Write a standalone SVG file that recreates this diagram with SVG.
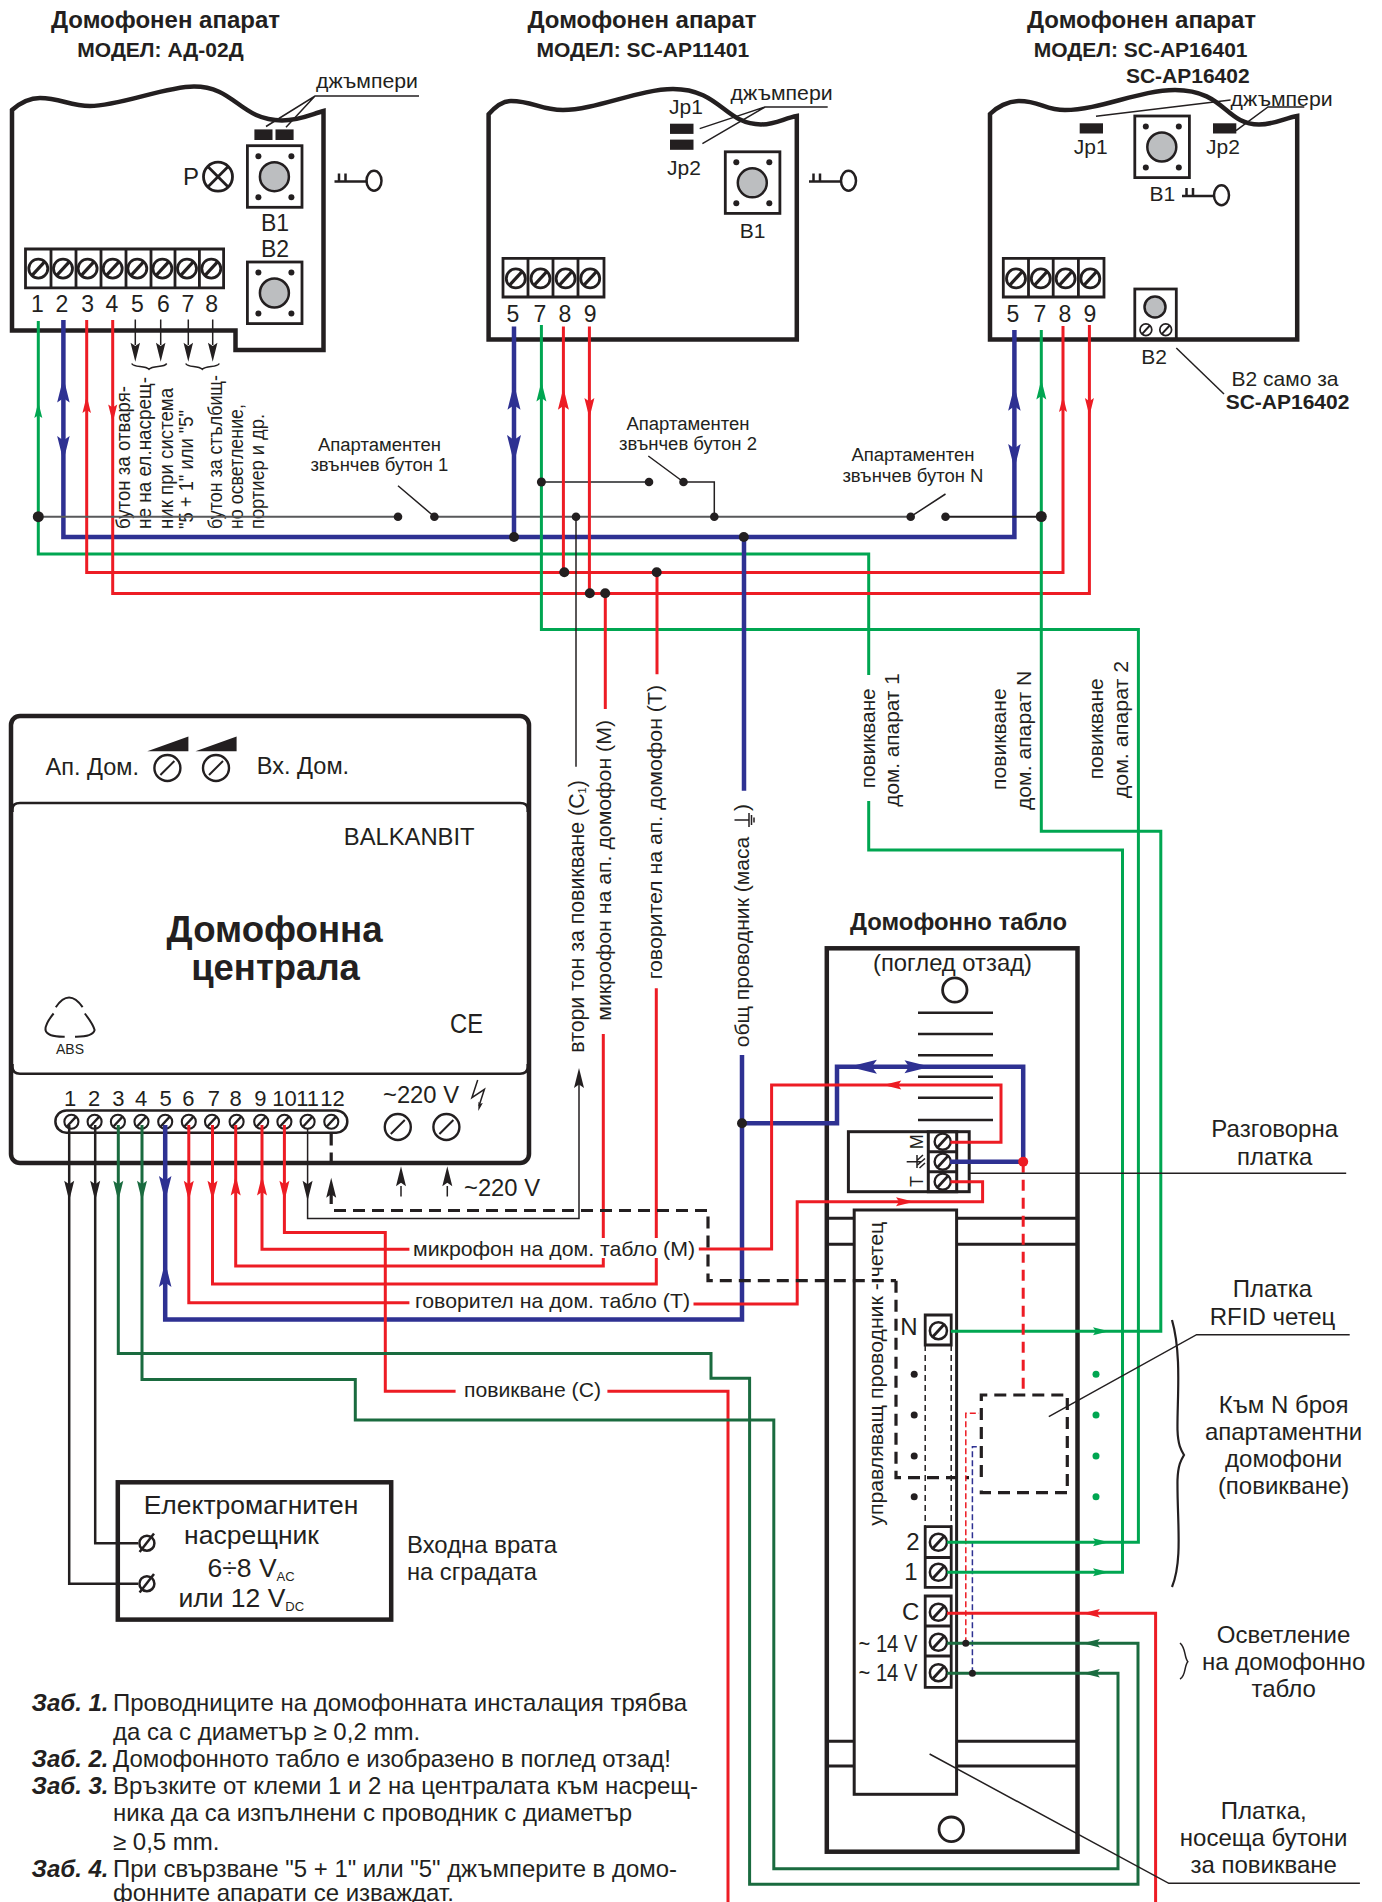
<svg xmlns="http://www.w3.org/2000/svg" width="1382" height="1902" viewBox="0 0 1382 1902">
<style>
text{font-family:"Liberation Sans",Arial,sans-serif;fill:#231f20;font-size:21px}
.m{text-anchor:middle}
.b{font-weight:bold}
.bi{font-weight:bold;font-style:italic;font-size:24px}
.h1{font-weight:bold;font-size:24px;text-anchor:middle}
.h2{font-weight:bold;font-size:21px;text-anchor:middle}
.s{font-size:23px}
.r{font-size:24px;text-anchor:middle}
.e{font-size:26.500px}
.nt{font-size:24px}
.v{font-size:18px}
.f{font-size:20px}
.o{fill:none;stroke:#231f20;stroke-width:4.500}
.t{fill:none;stroke:#231f20;stroke-width:2.800}
.l{fill:none;stroke:#231f20;stroke-width:1.500}
.k{fill:none;stroke:#231f20;stroke-width:2.500}
.d{fill:#231f20;stroke:none}
.w-r,.w-g,.w-b,.w-dg,.w-k,.w-ks,.w-gr,.w-dash,.w-rd{fill:none}
.w-r{stroke:#ed1c24;stroke-width:3}
.w-g{stroke:#00a651;stroke-width:3}
.w-b{stroke:#2e3192;stroke-width:4.500}
.w-dg{stroke:#1a6b3f;stroke-width:3}
.w-k{stroke:#231f20;stroke-width:2.500}
.w-ks{stroke:#231f20;stroke-width:1.500}
.w-gr{stroke:#58595b;stroke-width:2}
.w-dash{stroke:#231f20;stroke-width:3.200;stroke-dasharray:12 7}
.w-rd{stroke:#ed1c24;stroke-width:3;stroke-dasharray:11 7}
.ar{fill:#ed1c24}.ag{fill:#00a651}.ab{fill:#2e3192}.adg{fill:#1a6b3f}.ak{fill:#231f20}
</style>
<defs>
<path id="a" d="M0 0L5 20L0 16.500L-5 20Z"/>
<g id="sw"><circle r="9.500" fill="none" stroke="#231f20" stroke-width="2.800"/><line x1="-6" y1="6.500" x2="6" y2="-6.500" stroke="#231f20" stroke-width="3.200"/></g>
<g id="kn"><circle r="13" fill="none" stroke="#231f20" stroke-width="2.400"/><line x1="-7" y1="7" x2="7" y2="-7" stroke="#231f20" stroke-width="2"/></g>
<g id="key" fill="none" stroke="#231f20"><path d="M0 0H33M4.500 0V-8M11 0V-8" stroke-width="2.500"/><ellipse cx="39.500" cy="-0.800" rx="7.500" ry="10" stroke-width="2.500"/></g>
<g id="btn"><rect width="54.600" height="61.600" fill="none" stroke="#231f20" stroke-width="2.800"/><circle cx="27" cy="31" r="14.500" fill="#bcbec0" stroke="#231f20" stroke-width="2.500"/><circle cx="11" cy="10.500" r="3" class="d"/><circle cx="44" cy="10.500" r="3" class="d"/><circle cx="11" cy="51.500" r="3" class="d"/><circle cx="44" cy="51.500" r="3" class="d"/></g>
</defs>
<rect width="1382" height="1902" fill="#fff"/>

<g id="device-1">
<text class="h1" x="165.500" y="28">Домофонен апарат</text>
<text class="h2" x="160.500" y="56.500">МОДЕЛ: АД-02Д</text>
<path class="o" d="M12 330.600V110C20 103 30 98 40 98C60 98 70 106 90 106C120 106 165 86.500 194 86.500C235 86.500 240 120.400 282 120.400C300 120.400 312 114 323.500 111V350H235.500V330.600Z"/>
<rect class="d" x="254.400" y="129.400" width="18.100" height="10.600"/><rect class="d" x="275.500" y="129.400" width="18.100" height="10.600"/>
<path class="l" d="M419 96H315L266 126.500M315 96L286 127.300"/>
<text x="316" y="87.500" textLength="102" lengthAdjust="spacingAndGlyphs">джъмпери</text>
<text x="183" y="185" style="font-size:24px">P</text>
<circle cx="218" cy="176.700" r="14.500" class="t"/><path class="t" d="M207.800 166.500L228.200 186.900M228.200 166.500L207.800 186.900"/>
<use href="#btn" x="247.400" y="145.700"/><use href="#btn" x="247.400" y="262"/>
<text class="m s" x="275" y="230.500">B1</text><text class="m s" x="275" y="257">B2</text>
<use href="#key" x="334.500" y="181.600"/>
<path class="t" d="M25.500 249H223.600V287.800H25.500ZM51 249V287.800M76 249V287.800M101 249V287.800M126 249V287.800M151 249V287.800M175 249V287.800M199.400 249V287.800"/>
<use href="#sw" x="38.300" y="268.600"/><use href="#sw" x="63" y="268.600"/><use href="#sw" x="87.600" y="268.600"/><use href="#sw" x="112.700" y="268.600"/><use href="#sw" x="137.300" y="268.600"/><use href="#sw" x="162.400" y="268.600"/><use href="#sw" x="187" y="268.600"/><use href="#sw" x="211.300" y="268.600"/>
<text class="m s" x="37.400" y="312">1</text><text class="m s" x="62" y="312">2</text><text class="m s" x="87.600" y="312">3</text><text class="m s" x="111.800" y="312">4</text><text class="m s" x="137.300" y="312">5</text><text class="m s" x="163.300" y="312">6</text><text class="m s" x="188" y="312">7</text><text class="m s" x="211.700" y="312">8</text>
<path class="l" d="M131.700 363.500C134 368 145 365 149 369.300C153 365 164 368 166.700 363.500M185.700 363.500C188 368 198 365 202.300 369.300C206 365 217 368 219.300 363.500"/>
<text class="f" transform="translate(130,529) rotate(-90)" textLength="143" lengthAdjust="spacingAndGlyphs">бутон за отваря-</text>
<text class="f" transform="translate(151,529) rotate(-90)" textLength="152" lengthAdjust="spacingAndGlyphs">не на ел.насрещ-</text>
<text class="f" transform="translate(172.500,529) rotate(-90)" textLength="141" lengthAdjust="spacingAndGlyphs">ник при система</text>
<text class="f" transform="translate(193,529) rotate(-90)" textLength="119" lengthAdjust="spacingAndGlyphs">"5 + 1" или "5"</text>
<text class="f" transform="translate(222,529) rotate(-90)" textLength="154" lengthAdjust="spacingAndGlyphs">бутон за стълбищ-</text>
<text class="f" transform="translate(243.400,529) rotate(-90)" textLength="125" lengthAdjust="spacingAndGlyphs">но осветление,</text>
<text class="f" transform="translate(264,529) rotate(-90)" textLength="115" lengthAdjust="spacingAndGlyphs">портиер и др.</text>
</g>

<g id="device-2">
<text class="h1" x="642" y="28">Домофонен апарат</text>
<text class="h2" x="642.800" y="56.500">МОДЕЛ: SC-AP11401</text>
<path class="o" d="M488.600 339.600V114.300C495 107 502 101 511 101C533 101 540 110 563 110C595 110 640 89 673 89C720 89 725 124.500 761 124.500C775 124.500 785 118 796.800 116V339.600Z"/>
<rect class="d" x="670" y="123.700" width="23.500" height="10.200"/><rect class="d" x="670" y="139.600" width="23.500" height="10.200"/>
<text x="669" y="114">Jp1</text><text x="667" y="174.700">Jp2</text>
<path class="l" d="M827.700 107H765L699.700 128.600M765 107L702.400 143.700"/>
<text x="730.600" y="100" textLength="102" lengthAdjust="spacingAndGlyphs">джъмпери</text>
<use href="#btn" x="725.300" y="151.800"/>
<text class="m" x="752.700" y="237.500">B1</text>
<use href="#key" x="809" y="181.600"/>
<path class="t" d="M503 258.400H604V297H503ZM528 258.400V297M553 258.400V297M578 258.400V297"/>
<use href="#sw" x="515.800" y="278.400"/><use href="#sw" x="540.500" y="278.400"/><use href="#sw" x="565.600" y="278.400"/><use href="#sw" x="590.200" y="278.400"/>
<text class="m s" x="512.800" y="321.600">5</text><text class="m s" x="540" y="321.600">7</text><text class="m s" x="565" y="321.600">8</text><text class="m s" x="590.200" y="321.600">9</text>
</g>

<g id="device-3">
<text class="h1" x="1141.500" y="28">Домофонен апарат</text>
<text class="h2" x="1140.600" y="56.500">МОДЕЛ: SC-AP16401</text>
<text class="h2" x="1187.800" y="83">SC-AP16402</text>
<path class="o" d="M990 339.600V114C997 107 1008 101 1019 101C1040 101 1045 110 1065 110C1100 110 1140 90 1175 90C1225 90 1225 124.500 1259 124.500C1275 124.500 1285 118 1297.200 116V339.600Z"/>
<rect class="d" x="1079.700" y="123.300" width="23.300" height="10.200"/><rect class="d" x="1213" y="123.300" width="23.300" height="10.200"/>
<path class="l" d="M1230.600 100L1096 116.300M1304.300 107H1268L1236 130.600"/>
<text x="1230.600" y="106" textLength="102" lengthAdjust="spacingAndGlyphs">джъмпери</text>
<text class="m" x="1090.700" y="154">Jp1</text><text class="m" x="1223" y="154">Jp2</text>
<use href="#btn" x="1134.800" y="116"/>
<text class="m" x="1162.400" y="200.800">B1</text>
<use href="#key" x="1182" y="196"/>
<path class="t" d="M1003.300 258.400H1104V297H1003.300ZM1028.500 258.400V297M1053.200 258.400V297M1078.400 258.400V297"/>
<use href="#sw" x="1016" y="278.400"/><use href="#sw" x="1040.800" y="278.400"/><use href="#sw" x="1065.600" y="278.400"/><use href="#sw" x="1090.300" y="278.400"/>
<text class="m s" x="1013" y="321.600">5</text><text class="m s" x="1040" y="321.600">7</text><text class="m s" x="1065" y="321.600">8</text><text class="m s" x="1089.800" y="321.600">9</text>
<rect class="t" x="1134.800" y="289" width="41.500" height="50.600"/>
<circle cx="1155" cy="307" r="10.500" fill="#bcbec0" stroke="#231f20" stroke-width="2.500"/>
<use href="#sw" transform="translate(1145.900,329.800) scale(.62)"/><use href="#sw" transform="translate(1165.700,329.800) scale(.62)"/>
<text class="m" x="1154.200" y="364">B2</text>
<path class="l" d="M1176.300 348L1224 394"/>
<text class="m" x="1285" y="385.500">B2 само за</text>
<text class="h2" x="1287.500" y="409">SC-AP16402</text>
</g>

<g id="central-unit">
<rect class="o" x="11" y="716" width="518" height="447" rx="9"/>
<path class="k" d="M12.500 812V809Q12.500 803 20 803H520Q527.700 803 527.700 809V812M12.500 1064V1067Q12.500 1073.700 20 1073.700H520Q527.700 1073.700 527.700 1067V1064"/>
<text class="nt" x="45.500" y="775" textLength="93.500" lengthAdjust="spacingAndGlyphs">Ап. Дом.</text>
<text class="nt" x="256.700" y="773.500" textLength="92.500" lengthAdjust="spacingAndGlyphs">Вх. Дом.</text>
<use href="#kn" x="167.400" y="768"/><use href="#kn" x="216" y="768"/>
<path class="d" d="M147.300 751.300H188.400V736.600ZM195.500 751.300H236.600V736.600Z"/>
<text class="nt" x="343.800" y="845" textLength="130.800" lengthAdjust="spacingAndGlyphs">BALKANBIT</text>
<text class="b m" x="274.600" y="942" style="font-size:36.500px" textLength="216" lengthAdjust="spacingAndGlyphs">Домофонна</text>
<text class="b m" x="275.500" y="980" style="font-size:36.500px">централа</text>
<path class="k" style="stroke-width:2" d="M55.800 1007.200Q69 988 82.600 1007.200M53.600 1013.500Q45 1024 45.500 1030Q47 1037 64.700 1036.700M84.800 1013.500Q93 1024 94.600 1030Q93 1037 75 1036.700"/>
<text class="m" x="70" y="1053.500" style="font-size:14px">ABS</text>
<text x="450" y="1032.500" style="font-size:27px" textLength="33" lengthAdjust="spacingAndGlyphs">CE</text>
<g style="font-size:22px">
<text class="m" style="font-size:22px" x="70" y="1106">1</text><text class="m" style="font-size:22px" x="94.200" y="1106">2</text><text class="m" style="font-size:22px" x="118.300" y="1106">3</text><text class="m" style="font-size:22px" x="141" y="1106">4</text><text class="m" style="font-size:22px" x="165.600" y="1106">5</text><text class="m" style="font-size:22px" x="188.400" y="1106">6</text><text class="m" style="font-size:22px" x="213.800" y="1106">7</text><text class="m" style="font-size:22px" x="235.700" y="1106">8</text><text class="m" style="font-size:22px" x="260.300" y="1106">9</text><text class="m" style="font-size:22px" x="284.400" y="1106">10</text><text class="m" style="font-size:22px" x="307.600" y="1106">11</text><text class="m" style="font-size:22px" x="332.600" y="1106">12</text>
</g>
<rect class="k" x="55.400" y="1110.400" width="291.900" height="22.300" rx="11"/>
<g>
<use href="#sw" transform="translate(71.400,1121.700) scale(.74)"/><use href="#sw" transform="translate(94.600,1121.700) scale(.74)"/><use href="#sw" transform="translate(117.900,1121.700) scale(.74)"/><use href="#sw" transform="translate(141.500,1121.700) scale(.74)"/><use href="#sw" transform="translate(165.200,1121.700) scale(.74)"/><use href="#sw" transform="translate(188.800,1121.700) scale(.74)"/><use href="#sw" transform="translate(212,1121.700) scale(.74)"/><use href="#sw" transform="translate(236.600,1121.700) scale(.74)"/><use href="#sw" transform="translate(261.200,1121.700) scale(.74)"/><use href="#sw" transform="translate(284.400,1121.700) scale(.74)"/><use href="#sw" transform="translate(307.600,1121.700) scale(.74)"/><use href="#sw" transform="translate(331.300,1121.700) scale(.74)"/>
</g>
<use href="#kn" x="397.800" y="1127"/><use href="#kn" x="446.400" y="1127"/>
<text class="nt" x="383" y="1103" textLength="76" lengthAdjust="spacingAndGlyphs">~220 V</text>
<path class="l" d="M477.700 1080L471.900 1097.700L484.400 1089.300L479 1106"/><use href="#a" class="ak" transform="translate(478.300,1111) rotate(195) scale(.45)"/>
<text class="nt" x="464" y="1195.800" textLength="76" lengthAdjust="spacingAndGlyphs">~220 V</text>
</g>

<g id="door-strike">
<rect class="o" x="117.800" y="1482.300" width="273.400" height="137.300"/>
<text class="m e" x="251" y="1513.800">Електромагнитен</text>
<text class="m e" x="251.500" y="1544.300">насрещник</text>
<text class="e" x="207.500" y="1576.600">6÷8 V<tspan dy="4" style="font-size:13px">AC</tspan></text>
<text class="e" x="178.400" y="1607">или 12 V<tspan dy="4" style="font-size:13px">DC</tspan></text>
<circle cx="146.900" cy="1543.200" r="7.500" class="k"/><path class="k" d="M139.600 1552L154 1533.500"/>
<circle cx="146.900" cy="1583.700" r="7.500" class="k"/><path class="k" d="M139.600 1592.500L154 1574"/>
</g>

<g id="intercom-panel">
<text class="b m" x="958.500" y="930" style="font-size:24px" textLength="217" lengthAdjust="spacingAndGlyphs">Домофонно табло</text>
<rect class="o" x="826.800" y="948.300" width="250.700" height="903.400"/>
<text class="r" x="952.500" y="970.700" textLength="159" lengthAdjust="spacingAndGlyphs">(поглед отзад)</text>
<circle cx="954.800" cy="990" r="12.200" class="t"/>
<path class="k" d="M918 1012.700H993M918 1034H993M918 1055.300H993M918 1076.700H993M918 1097.700H993M918 1120H993"/>
<path class="k" style="stroke-width:3" d="M826.800 1218.300H1077.500M826.800 1244.300H1077.500M826.800 1741.300H1077.500M826.800 1766H1077.500"/>
<rect x="854.200" y="1210" width="102.400" height="584.300" fill="#fff" stroke="#231f20" stroke-width="3"/>
<circle cx="951.300" cy="1829.300" r="12.300" class="t"/>
<rect class="k" style="stroke-width:3" x="848.400" y="1131.700" width="120.800" height="60"/>
<path class="k" style="stroke-width:3" d="M928.300 1131.700H956.700V1191.700H928.300ZM928.300 1151.700H956.700M928.300 1171.700H956.700"/>
<use href="#sw" transform="translate(942.700,1141.700) scale(.85)"/><use href="#sw" transform="translate(942.700,1161.700) scale(.85)"/><use href="#sw" transform="translate(942.700,1181.700) scale(.85)"/>
<text class="m" transform="translate(923.300,1141.700) rotate(-90)" style="font-size:18px">M</text>
<text class="m" transform="translate(923.300,1181.500) rotate(-90)" style="font-size:18px">T</text>
<path class="l" d="M906.700 1161.700H921.700M917 1155V1168M919.500 1168L925 1163M917.500 1165L925 1158.500M917 1160.500L923 1155"/>
<path class="l" style="stroke-dasharray:6 4" d="M925.200 1345V1526.700M951.200 1345V1526.700"/>
<text transform="translate(883.300,1525.700) rotate(-90)" textLength="304" lengthAdjust="spacingAndGlyphs">управляващ проводник - четец</text>
<g class="d"><circle cx="914.200" cy="1374.300" r="3.500"/><circle cx="914.200" cy="1415" r="3.500"/><circle cx="914.200" cy="1456" r="3.500"/><circle cx="914.200" cy="1496.700" r="3.500"/></g>
<g fill="#00a651"><circle cx="1096" cy="1374.300" r="3.500"/><circle cx="1096" cy="1415" r="3.500"/><circle cx="1096" cy="1456" r="3.500"/><circle cx="1096" cy="1496.700" r="3.500"/></g>
<path class="t" d="M925.200 1315H951.200V1345H925.200ZM925.200 1526.700H951.200V1587.300H925.200ZM925.200 1557.500H951.200M925.200 1596H951.200V1687.300H925.200ZM925.200 1626H951.200M925.200 1656H951.200"/>
<use href="#sw" transform="translate(938.400,1330.700) scale(.9)"/><use href="#sw" transform="translate(938.400,1542.300) scale(.9)"/><use href="#sw" transform="translate(938.400,1572.300) scale(.9)"/><use href="#sw" transform="translate(938.400,1612.300) scale(.9)"/><use href="#sw" transform="translate(938.400,1642.300) scale(.9)"/><use href="#sw" transform="translate(938.400,1672.700) scale(.9)"/>
<text class="r" x="909" y="1335.300">N</text><text class="r" x="912.900" y="1550">2</text><text class="r" x="911" y="1580">1</text><text class="r" x="910.600" y="1620">C</text>
<text class="nt" x="858.600" y="1651.700" textLength="58.700" lengthAdjust="spacingAndGlyphs">~ 14 V</text>
<text class="nt" x="858.600" y="1680.700" textLength="58.700" lengthAdjust="spacingAndGlyphs">~ 14 V</text>
<path class="w-dash" d="M896 1280.700V1477.700H969"/>
<path class="w-dash" d="M981.300 1477V1395H1067.300V1492.700H981.300V1485"/>
<path fill="none" stroke="#ed1c24" stroke-width="1.500" stroke-dasharray="6 3" d="M965.800 1643.300V1413.300H979"/>
<path fill="none" stroke="#2e3192" stroke-width="1.500" stroke-dasharray="6 3" d="M972.400 1673.300V1446.700H977.700"/>
</g>

<g id="connectors">
<path class="w-g" d="M38.300 321V554H868.700V675M868.700 801V850H1122.500V1572.300H947"/>
<path class="w-b" d="M63.400 320V537H1014.400V330"/>
<path class="w-r" d="M86.700 320V572.600H1063V326"/>
<path class="w-r" d="M112.700 320V593.500H1089.400V325"/>
<path class="w-ks" d="M135.300 319.600V345M160.700 319.600V345M188.300 319.600V345M212.700 319.600V345"/>
<path class="w-gr" d="M38.300 516.700H398M434.400 516.700H910.700"/>
<path class="w-ks" d="M398 485.700L434.400 516.700M910.700 516.700L945.500 494"/>
<path class="w-k" style="stroke-width:2" d="M945.500 516.700H1041.300"/>
<path class="w-gr" d="M541.400 482H649"/>
<path class="w-ks" d="M648.300 456L683.500 482M683.500 482H714.300V516.700"/>
<path class="w-b" d="M514 326.500V537"/>
<path class="w-g" d="M541.400 325V629.400H1138.400V1542.300H947"/>
<path class="w-r" d="M563.400 326.500V572.600"/>
<path class="w-r" d="M589.400 326.500V593.500"/>
<path class="w-g" d="M1041.300 330V831.300H1160.800V1331.300H951"/>
<path class="w-ks" d="M576 516.700V766.700"/>
<path class="w-ks" d="M579 1080V1218.500H307.600V1129"/>
<path class="w-r" d="M605.300 593.500V709M603.300 1034V1238M603.300 1258V1266H235.700V1125"/>
<path class="w-r" d="M657 572.600V674.300M656.300 988.300V1238M656.300 1258V1284H212.500V1125"/>
<path class="w-b" d="M744 537V790.700M742 1055V1319.500H165.200V1125"/>
<path class="w-b" d="M742 1123.300H837V1066.700H1023.200V1161.700H950"/>
<path class="w-r" d="M188.800 1125V1302.700H409.400M693.500 1304H797.200V1201.700H982.600V1181.700H950.400"/>
<path class="w-r" d="M262 1125V1249.200H409.400M698.800 1249H771.600V1085H1001V1142.300H950.400"/>
<path class="w-r" d="M284.400 1125V1232.400H385.300V1391.300H455.600M607.400 1391.300H728V1902"/>
<path class="w-r" d="M947 1613.300H1155.600V1902"/>
<path class="w-k" d="M69.200 1125V1583.700H138"/>
<path class="w-k" d="M95.200 1125V1543.200H138"/>
<path class="w-dg" d="M118.300 1125V1353.600H711V1378.300H749.600V1884.300H1138V1643.300H947"/>
<path class="w-dg" d="M142 1125V1379.400H355.300V1420H773.800V1868.700H1118V1673.300H947"/>
<path class="w-dash" d="M331.200 1133.500V1170M331.200 1194V1204M334 1210.500H708V1280.700H896"/>
<path class="w-rd" d="M1023.200 1161.700V1389.300"/>
<path class="w-ks" d="M401 1186V1196.600M447.300 1186V1196.600"/>
<g class="d">
<circle cx="38.300" cy="516.700" r="5.500"/><circle cx="398" cy="516.700" r="4.300"/><circle cx="434.400" cy="516.700" r="4.300"/><circle cx="910.700" cy="516.700" r="4.300"/><circle cx="945.500" cy="516.700" r="4.300"/><circle cx="1041.300" cy="516.500" r="5.500"/>
<circle cx="541.400" cy="482" r="4.500"/><circle cx="649" cy="482" r="4.300"/><circle cx="683.500" cy="482" r="4.300"/><circle cx="714.300" cy="516.700" r="4.300"/><circle cx="576" cy="516.700" r="4.300"/>
<circle cx="514" cy="537" r="5"/><circle cx="743.800" cy="537" r="5"/><circle cx="564.300" cy="572.300" r="5"/><circle cx="656.700" cy="572.300" r="5"/><circle cx="589.800" cy="593.200" r="5"/><circle cx="605.200" cy="593.200" r="5"/><circle cx="742" cy="1123.300" r="5"/>
<circle cx="965.800" cy="1643.300" r="3.500"/><circle cx="972.400" cy="1673.300" r="3.500"/>
</g>
<circle cx="1023.200" cy="1161.700" r="5" fill="#ed1c24"/>
<g class="ag">
<use href="#a" transform="translate(38.300,402) scale(.8)"/><use href="#a" transform="translate(541.400,381.600) scale(1)"/><use href="#a" transform="translate(1041.300,379.600) scale(1)"/>
<use href="#a" transform="translate(1109,1331.300) rotate(90) scale(.8)"/><use href="#a" transform="translate(1109,1542.300) rotate(90) scale(.8)"/><use href="#a" transform="translate(1109,1572.300) rotate(90) scale(.8)"/>
</g>
<g class="ab">
<use href="#a" transform="translate(63.400,377.500) scale(1.250)"/><use href="#a" transform="translate(63.400,461) rotate(180) scale(1.250)"/>
<use href="#a" transform="translate(514,383.700) scale(1.300)"/><use href="#a" transform="translate(514,463) rotate(180) scale(1.400)"/>
<use href="#a" transform="translate(1014.400,385.700) scale(1.250)"/><use href="#a" transform="translate(1014.400,469) rotate(180) scale(1.250)"/>
<use href="#a" transform="translate(165.200,1201) rotate(180) scale(1.250)"/><use href="#a" transform="translate(165.200,1261.900) scale(1.250)"/>
<use href="#a" transform="translate(848.900,1066.700) rotate(-90) scale(1.400)"/><use href="#a" transform="translate(930.500,1066.700) rotate(90) scale(1.300)"/>
</g>
<g class="ar">
<use href="#a" transform="translate(86.700,396) scale(.85)"/><use href="#a" transform="translate(112.700,422.400) rotate(180) scale(.9)"/>
<use href="#a" transform="translate(563.400,387.800) scale(1.100)"/><use href="#a" transform="translate(589.400,418) rotate(180)"/>
<use href="#a" transform="translate(1063,396) scale(.8)"/><use href="#a" transform="translate(1089.400,416) rotate(180) scale(.9)"/>
<use href="#a" transform="translate(188.800,1200.800) rotate(180)"/><use href="#a" transform="translate(212.500,1200.800) rotate(180)"/><use href="#a" transform="translate(235.700,1175.600)"/><use href="#a" transform="translate(262,1175.600)"/><use href="#a" transform="translate(284.400,1200.800) rotate(180)"/>
<use href="#a" transform="translate(883.300,1085) rotate(-90) scale(.9)"/><use href="#a" transform="translate(914,1201.700) rotate(90) scale(.9)"/><use href="#a" transform="translate(1082.800,1613.300) rotate(-90) scale(.85)"/>
</g>
<g class="adg">
<use href="#a" transform="translate(118.300,1200.800) rotate(180)"/><use href="#a" transform="translate(142,1200.800) rotate(180)"/>
<use href="#a" transform="translate(1082.800,1643.300) rotate(-90) scale(.85)"/><use href="#a" transform="translate(1082.800,1673.300) rotate(-90) scale(.85)"/>
</g>
<g class="ak">
<use href="#a" transform="translate(135.300,361.700) rotate(180) scale(.95)"/><use href="#a" transform="translate(160.700,361.700) rotate(180) scale(.95)"/><use href="#a" transform="translate(188.300,361.700) rotate(180) scale(.95)"/><use href="#a" transform="translate(212.700,361.700) rotate(180) scale(.95)"/>
<use href="#a" transform="translate(69.200,1200.800) rotate(180)"/><use href="#a" transform="translate(95.200,1200.800) rotate(180)"/><use href="#a" transform="translate(307.600,1200.800) rotate(180)"/>
<use href="#a" transform="translate(331.200,1177.700)"/><use href="#a" transform="translate(579,1068)"/><use href="#a" transform="translate(401,1166.300)"/><use href="#a" transform="translate(447.300,1166.300)"/>
</g>
<path class="l" d="M969 1173.300H1346.200"/>
<path class="l" d="M1048.800 1416.700L1196.600 1334.700H1349.700"/>
<path class="l" d="M929.600 1754L1168.800 1883.300H1359.900"/>
</g>

<g id="labels">
<text class="m v" x="379.400" y="451" textLength="123" lengthAdjust="spacingAndGlyphs">Апартаментен</text>
<text class="m v" x="379.400" y="471.400" textLength="138" lengthAdjust="spacingAndGlyphs">звънчев бутон 1</text>
<text class="m v" x="688" y="429.800" textLength="123" lengthAdjust="spacingAndGlyphs">Апартаментен</text>
<text class="m v" x="688" y="450" textLength="138" lengthAdjust="spacingAndGlyphs">звънчев бутон 2</text>
<text class="m v" x="912.900" y="461" textLength="123" lengthAdjust="spacingAndGlyphs">Апартаментен</text>
<text class="m v" x="912.900" y="481.600" textLength="141" lengthAdjust="spacingAndGlyphs">звънчев бутон N</text>
<text transform="translate(584,1052.700) rotate(-90)" style="font-size:21.300px">втори тон за повикване (C<tspan dy="2" style="font-size:11px">1</tspan><tspan dy="-2">)</tspan></text>
<text transform="translate(611,1020.700) rotate(-90)" textLength="300.700" lengthAdjust="spacingAndGlyphs">микрофон на ап. домофон (М)</text>
<text transform="translate(662.300,979.300) rotate(-90)" textLength="294.300" lengthAdjust="spacingAndGlyphs">говорител на ап. домофон (Т)</text>
<text transform="translate(749,1047.300) rotate(-90)" textLength="210.600" lengthAdjust="spacingAndGlyphs">общ проводник (маса</text>
<path class="l" d="M734.500 820H749M749 813V827M751.500 815V825M754 817.500V822.500"/>
<text transform="translate(749,811) rotate(-90)">)</text>
<text transform="translate(875,788.300) rotate(-90)" textLength="100" lengthAdjust="spacingAndGlyphs">повикване</text>
<text transform="translate(899.300,806.700) rotate(-90)" textLength="133.400" lengthAdjust="spacingAndGlyphs">дом. апарат 1</text>
<text transform="translate(1005.700,790) rotate(-90)" textLength="101.700" lengthAdjust="spacingAndGlyphs">повикване</text>
<text transform="translate(1030.700,810) rotate(-90)" textLength="139.300" lengthAdjust="spacingAndGlyphs">дом. апарат N</text>
<text transform="translate(1103.300,779.300) rotate(-90)" textLength="101" lengthAdjust="spacingAndGlyphs">повикване</text>
<text transform="translate(1128.300,798.300) rotate(-90)" textLength="137.600" lengthAdjust="spacingAndGlyphs">дом. апарат 2</text>
<text x="413" y="1255.600" textLength="282" lengthAdjust="spacingAndGlyphs">микрофон на дом. табло (М)</text>
<text x="415" y="1308" textLength="275" lengthAdjust="spacingAndGlyphs">говорител на дом. табло (Т)</text>
<text x="464" y="1396.600" textLength="137" lengthAdjust="spacingAndGlyphs">повикване (C)</text>
<text class="nt" x="407" y="1553.300" textLength="150" lengthAdjust="spacingAndGlyphs">Входна врата</text>
<text class="nt" x="407" y="1580" textLength="130" lengthAdjust="spacingAndGlyphs">на сградата</text>
<text class="r" x="1274.700" y="1137.300">Разговорна</text>
<text class="r" x="1274.700" y="1165">платка</text>
<text class="r" x="1272.500" y="1297">Платка</text>
<text class="r" x="1272.500" y="1325">RFID четец</text>
<path class="k" style="stroke-width:2.200" d="M1172 1320C1182 1355 1177 1400 1177.500 1430C1178 1445 1181 1450 1184 1455C1181 1460 1178 1465 1177.500 1480C1177 1520 1183 1560 1172 1587"/>
<text class="r" x="1283.600" y="1413.300">Към N броя</text>
<text class="r" x="1283.600" y="1440">апартаментни</text>
<text class="r" x="1283.600" y="1467.300">домофони</text>
<text class="r" x="1283.600" y="1494">(повикване)</text>
<path class="l" d="M1180 1643C1186 1648 1184 1657 1187.800 1661.700C1184 1666 1186 1676 1180 1679"/>
<text class="r" x="1283.600" y="1642.700">Осветление</text>
<text class="r" x="1283.600" y="1670">на домофонно</text>
<text class="r" x="1283.600" y="1696.700">табло</text>
<text class="r" x="1263.700" y="1819.300">Платка,</text>
<text class="r" x="1263.700" y="1846">носеща бутони</text>
<text class="r" x="1263.700" y="1873.300">за повикване</text>
</g>

<g id="notes">
<text class="bi" x="31.500" y="1711">Заб. 1.</text>
<text class="nt" x="113" y="1711" textLength="574" lengthAdjust="spacingAndGlyphs">Проводниците на домофонната инсталация трябва</text>
<text class="nt" x="113" y="1740.400">да са с диаметър ≥ 0,2 mm.</text>
<text class="bi" x="31.500" y="1767">Заб. 2.</text>
<text class="nt" x="113" y="1767" textLength="558" lengthAdjust="spacingAndGlyphs">Домофонното табло е изобразено в поглед отзад!</text>
<text class="bi" x="31.500" y="1794">Заб. 3.</text>
<text class="nt" x="113" y="1794" textLength="585" lengthAdjust="spacingAndGlyphs">Връзките от клеми 1 и 2 на централата към насрещ-</text>
<text class="nt" x="113" y="1821" textLength="519" lengthAdjust="spacingAndGlyphs">ника да са изпълнени с проводник с диаметър</text>
<text class="nt" x="113" y="1850">≥ 0,5 mm.</text>
<text class="bi" x="31.500" y="1877">Заб. 4.</text>
<text class="nt" x="113" y="1877" textLength="564" lengthAdjust="spacingAndGlyphs">При свързване "5 + 1" или "5" джъмперите в домо-</text>
<text class="nt" x="113" y="1900.500">фонните апарати се изваждат.</text>
</g>
</svg>
